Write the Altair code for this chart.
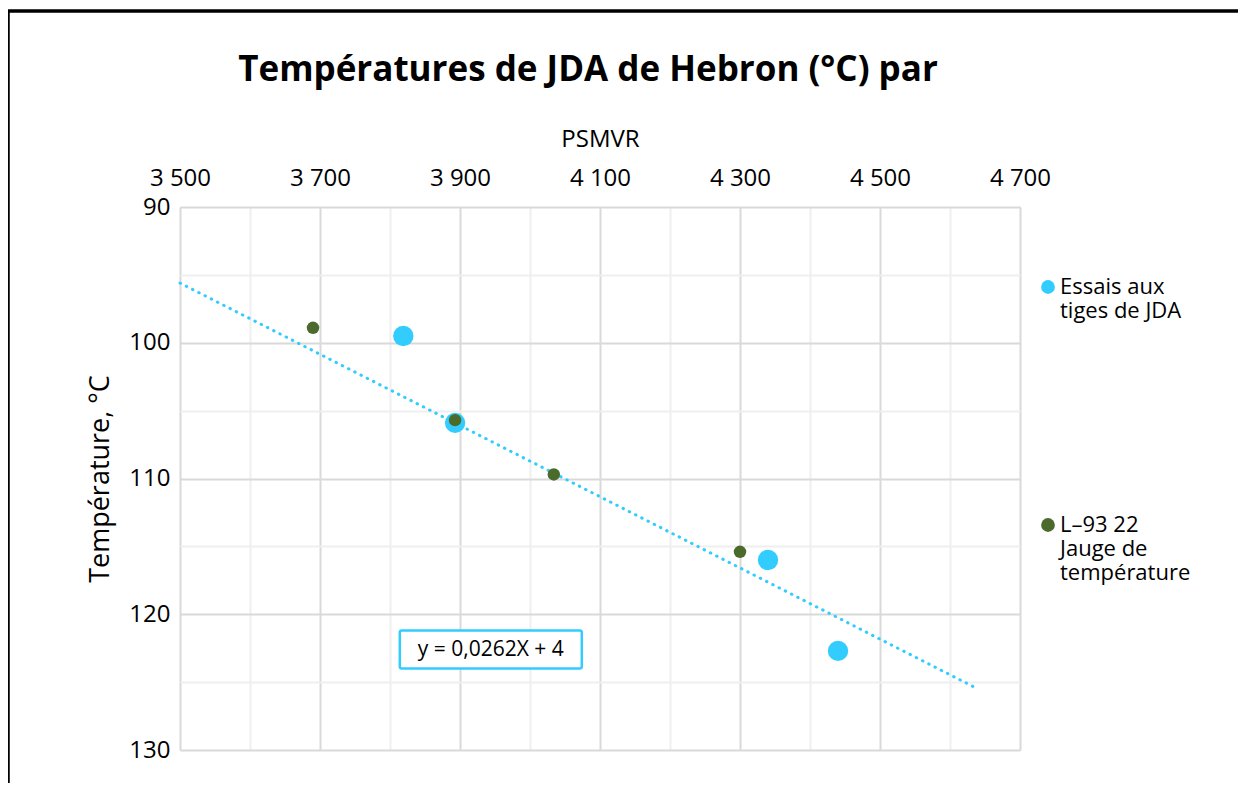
import altair as alt
import pandas as pd

# ---- data ----
series_names = ["Essais aux tiges de JDA", "L–93 22 Jauge de température"]
blue_x = [3819, 3893, 4340, 4440]
blue_y = [99.5, 105.9, 116.0, 122.7]
green_x = [3690, 3893, 4034, 4300]
green_y = [98.9, 105.7, 109.7, 115.4]

trend_x = [3500, 4636]
trend_y = [95.6, 125.4]

eq_text = "y = 0,0262X + 4"
eq_box_x = [3814, 4074]
eq_box_y = [121.2, 124.0]

title_text = "Températures de JDA de Hebron (°C) par"

x_ticks = list(range(3500, 4701, 100))
y_ticks = list(range(90, 131, 5))

FONT = "Open Sans"
BLUE = "#33ccff"
GREEN = "#4b6b2c"

blue_df = pd.DataFrame({"x": blue_x, "y": blue_y, "serie": series_names[0]})
green_df = pd.DataFrame({"x": green_x, "y": green_y, "serie": series_names[1]})
trend = pd.DataFrame({"x": trend_x, "y": trend_y})
box = pd.DataFrame({"x": [eq_box_x[0]], "x2": [eq_box_x[1]], "y": [eq_box_y[0]], "y2": [eq_box_y[1]],
                    "xc": [(eq_box_x[0] + eq_box_x[1]) / 2], "yc": [(eq_box_y[0] + eq_box_y[1]) / 2],
                    "t": [eq_text]})

xscale = alt.Scale(domain=[3500, 4700], nice=False, zero=False)
yscale = alt.Scale(domain=[90, 130], reverse=True, nice=False, zero=False)

xaxis = alt.Axis(
    orient="top", title="PSMVR", values=x_ticks,
    labelExpr="datum.value % 200 == 0 ? '' : floor(datum.value / 1000) + ' ' + format(datum.value % 1000, '03d')",
    labelFont=FONT, labelFontSize=24, labelColor="black", labelPadding=17, labelFlush=False,
    titleFont=FONT, titleFontSize=24, titleFontWeight="normal", titleColor="black", titlePadding=15,
    ticks=False, domain=False, grid=True,
    gridColor={"condition": {"test": "datum.value % 200 == 0", "value": "#efefef"}, "value": "#d9d9d9"},
    gridWidth=2,
)
yaxis = alt.Axis(
    title="Température, °C", values=y_ticks,
    labelExpr="datum.value % 10 == 5 ? '' : datum.value",
    labelFont=FONT, labelFontSize=24, labelColor="black", labelPadding=10, labelFlush=False,
    titleFont=FONT, titleFontSize=27, titleFontWeight="normal", titleColor="black", titlePadding=14,
    ticks=False, domain=False, grid=True,
    gridColor={"condition": {"test": "datum.value % 10 == 5", "value": "#efefef"}, "value": "#d9d9d9"},
    gridWidth=2,
)

color_enc = alt.Color(
    "serie:N", scale=alt.Scale(domain=series_names, range=[BLUE, GREEN]),
    legend=alt.Legend(
        title=None, orient="none", legendX=857, legendY=69,
        symbolType="circle", symbolSize=190, symbolStrokeWidth=0,
        labelFont=FONT, labelFontSize=22, labelColor="black",
        labelLimit=300, labelBaseline="middle", labelOffset=1,
        rowPadding=192,
        labelExpr="datum.label == 'Essais aux tiges de JDA' ? ['Essais aux', 'tiges de JDA'] : ['L–93 22', 'Jauge de', 'température']",
    ),
)

border = alt.Chart(pd.DataFrame({"a": [0]})).mark_rect(
    fill=None, stroke="black", strokeWidth=3.5
).encode(x=alt.value(-172), x2=alt.value(1200), y=alt.value(-196), y2=alt.value(800))

title = alt.Chart(pd.DataFrame({"t": [title_text]})).mark_text(
    font=FONT, fontSize=35, fontWeight="bold", color="black", baseline="alphabetic", align="center"
).encode(x=alt.value(408), y=alt.value(-126), text="t:N")

trend_line = alt.Chart(trend).mark_line(
    color=BLUE, strokeWidth=3, strokeDash=[0.5, 6.5], strokeCap="round"
).encode(x=alt.X("x:Q", scale=xscale, axis=xaxis), y=alt.Y("y:Q", scale=yscale, axis=yaxis))

blue_pts = alt.Chart(blue_df).mark_circle(opacity=1, size=415).encode(
    x=alt.X("x:Q", scale=xscale), y=alt.Y("y:Q", scale=yscale), color=color_enc
)
green_pts = alt.Chart(green_df).mark_circle(opacity=1, size=155).encode(
    x=alt.X("x:Q", scale=xscale), y=alt.Y("y:Q", scale=yscale), color=color_enc
)

eq_rect = alt.Chart(box).mark_rect(fill="white", stroke=BLUE, strokeWidth=2.5, cornerRadius=2).encode(
    x=alt.X("x:Q", scale=xscale), x2="x2:Q", y=alt.Y("y:Q", scale=yscale), y2="y2:Q"
)
eq_txt = alt.Chart(box).mark_text(font=FONT, fontSize=21, color="black").encode(
    x=alt.X("xc:Q", scale=xscale), y=alt.Y("yc:Q", scale=yscale), text="t:N"
)

chart = alt.layer(border, title, trend_line, blue_pts, green_pts, eq_rect, eq_txt).properties(
    width=840, height=543,
    autosize=alt.AutoSizeParams(type="none"),
    padding={"left": 172, "top": 199, "right": 218, "bottom": 33},
).configure_view(stroke="#d9d9d9", strokeWidth=2).configure(background="white")

chart.save("out.html", embed_options={"renderer": "svg", "actions": False})
